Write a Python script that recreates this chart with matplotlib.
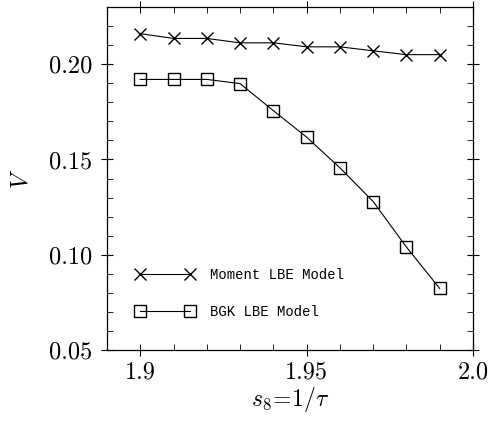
import matplotlib
matplotlib.use("Agg")
import matplotlib.pyplot as plt
from matplotlib.ticker import MultipleLocator

plt.rcParams['font.family'] = 'serif'
plt.rcParams['font.serif'] = ['cmr10', 'DejaVu Serif']
plt.rcParams['mathtext.fontset'] = 'cm'
plt.rcParams['axes.formatter.use_mathtext'] = True

s8 = [1.90, 1.91, 1.92, 1.93, 1.94, 1.95, 1.96, 1.97, 1.98, 1.99]
moment_v = [0.216, 0.2135, 0.2135, 0.2112, 0.2112, 0.2091, 0.2091, 0.2070, 0.2050, 0.2050]
bgk_v = [0.192, 0.192, 0.192, 0.1898, 0.1756, 0.1617, 0.1456, 0.1279, 0.1040, 0.0823]
xticks = [1.9, 1.95, 2.0]
xticklabels = ["1.9", "1.95", "2.0"]
yticks = [0.05, 0.10, 0.15, 0.20]
yticklabels = ["0.05", "0.10", "0.15", "0.20"]

fig = plt.figure(figsize=(4.92, 4.22), dpi=100)
ax = fig.add_axes([107/492, 1-350/422, 366/492, 343/422])

ax.plot(s8, moment_v, color='black', lw=0.8, marker='x', ms=8, mew=1.0,
        label='Moment LBE Model')
ax.plot(s8, bgk_v, color='black', lw=0.8, marker='s', ms=8, mew=1.0,
        mfc='none', label='BGK LBE Model')

ax.set_xlim(1.89, 2.0)
ax.set_ylim(0.05, 0.23)
ax.set_xticks(xticks)
ax.set_xticklabels(xticklabels)
ax.set_yticks(yticks)
ax.set_yticklabels(yticklabels)
ax.xaxis.set_minor_locator(MultipleLocator(0.01))
ax.yaxis.set_minor_locator(MultipleLocator(0.01))
ax.tick_params(which='major', direction='inout', length=9, width=0.8,
               top=True, right=True, labelsize=17.5, pad=6)
ax.tick_params(axis='x', which='major', pad=4)
ax.tick_params(which='minor', direction='in', length=4, width=0.6,
               top=True, right=True)
for sp in ax.spines.values():
    sp.set_linewidth(0.9)

ax.set_xlabel(r'$s_8\!=\!1/\tau$', fontsize=17, labelpad=1)
ax.set_ylabel(r'$V$', fontsize=17, labelpad=12)

leg = ax.legend(loc='center left', bbox_to_anchor=(0.079, 0.165), frameon=False,
                numpoints=2, handlelength=4.2, handletextpad=1.15,
                labelspacing=1.65, borderpad=0, borderaxespad=0,
                prop={'family': 'Liberation Mono', 'size': 10})

fig.savefig('out.png', dpi=100)
